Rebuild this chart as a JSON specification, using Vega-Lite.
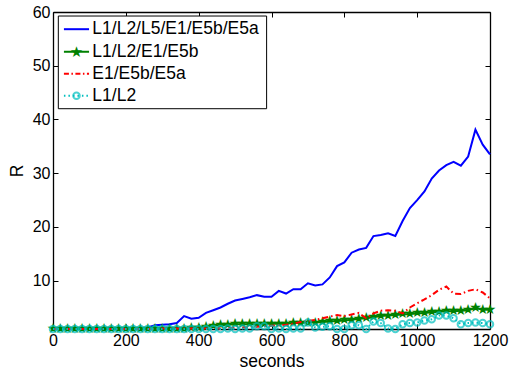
{
  "$schema": "https://vega.github.io/schema/vega-lite/v6.json",
  "width": 437,
  "height": 317,
  "autosize": {"type": "none"},
  "padding": {"left": 53, "top": 12, "right": 19, "bottom": 44},
  "config": {
    "view": {"stroke": null},
    "font": "Liberation Sans",
    "axis": {
      "domainColor": "black",
      "domainWidth": 1.3,
      "tickColor": "black",
      "tickWidth": 1,
      "tickSize": -5,
      "labelPadding": 8,
      "labelFontSize": 16,
      "labelColor": "black",
      "labelFlush": false,
      "labelOverlap": false,
      "titleFontSize": 17.5,
      "titleFontWeight": "normal",
      "titleColor": "black",
      "grid": false
    }
  },
  "data": {
    "values": [
      {"t": 0, "a": 1.0, "b": 1.0, "c": 1.0, "d": 1.0},
      {"t": 20, "a": 1.0, "b": 1.0, "c": 1.0, "d": 1.0},
      {"t": 40, "a": 1.0, "b": 1.0, "c": 1.0, "d": 1.0},
      {"t": 60, "a": 1.0, "b": 1.0, "c": 1.0, "d": 1.0},
      {"t": 80, "a": 1.0, "b": 1.0, "c": 1.0, "d": 1.0},
      {"t": 100, "a": 1.0, "b": 1.0, "c": 1.0, "d": 1.0},
      {"t": 120, "a": 1.0, "b": 1.0, "c": 1.0, "d": 1.0},
      {"t": 140, "a": 1.0, "b": 1.0, "c": 1.0, "d": 1.0},
      {"t": 160, "a": 1.0, "b": 1.0, "c": 1.0, "d": 1.0},
      {"t": 180, "a": 1.0, "b": 1.0, "c": 1.0, "d": 1.0},
      {"t": 200, "a": 1.0, "b": 1.0, "c": 1.0, "d": 1.0},
      {"t": 220, "a": 1.1, "b": 1.0, "c": 1.0, "d": 1.0},
      {"t": 240, "a": 1.1, "b": 1.0, "c": 1.0, "d": 1.0},
      {"t": 260, "a": 1.3, "b": 1.0, "c": 1.0, "d": 1.0},
      {"t": 280, "a": 1.7, "b": 1.0, "c": 1.0, "d": 1.0},
      {"t": 300, "a": 1.8, "b": 1.0, "c": 1.1, "d": 1.0},
      {"t": 320, "a": 1.9, "b": 1.0, "c": 1.1, "d": 1.0},
      {"t": 340, "a": 2.1, "b": 1.0, "c": 1.1, "d": 1.0},
      {"t": 360, "a": 3.4, "b": 1.0, "c": 1.1, "d": 1.0},
      {"t": 380, "a": 2.9, "b": 1.1, "c": 1.1, "d": 1.0},
      {"t": 400, "a": 3.1, "b": 1.2, "c": 1.1, "d": 1.0},
      {"t": 420, "a": 4.0, "b": 1.4, "c": 1.1, "d": 1.0},
      {"t": 440, "a": 4.5, "b": 1.6, "c": 1.1, "d": 1.0},
      {"t": 460, "a": 5.0, "b": 1.7, "c": 1.1, "d": 1.0},
      {"t": 480, "a": 5.7, "b": 1.8, "c": 1.2, "d": 1.1},
      {"t": 500, "a": 6.3, "b": 1.9, "c": 1.2, "d": 1.0},
      {"t": 520, "a": 6.6, "b": 1.9, "c": 1.3, "d": 1.1},
      {"t": 540, "a": 6.9, "b": 1.9, "c": 1.3, "d": 1.1},
      {"t": 560, "a": 7.3, "b": 1.9, "c": 1.4, "d": 1.5},
      {"t": 580, "a": 7.0, "b": 2.0, "c": 1.5, "d": 1.5},
      {"t": 600, "a": 7.0, "b": 2.0, "c": 1.6, "d": 1.0},
      {"t": 620, "a": 8.1, "b": 2.0, "c": 1.7, "d": 1.1},
      {"t": 640, "a": 7.6, "b": 2.0, "c": 1.8, "d": 1.0},
      {"t": 660, "a": 8.4, "b": 2.1, "c": 2.0, "d": 1.1},
      {"t": 680, "a": 8.4, "b": 2.1, "c": 2.3, "d": 1.1},
      {"t": 700, "a": 9.5, "b": 2.2, "c": 2.5, "d": 2.2},
      {"t": 720, "a": 9.1, "b": 2.2, "c": 2.7, "d": 1.3},
      {"t": 740, "a": 9.3, "b": 2.3, "c": 3.0, "d": 1.4},
      {"t": 760, "a": 10.6, "b": 2.4, "c": 3.3, "d": 1.5},
      {"t": 780, "a": 12.7, "b": 2.5, "c": 3.6, "d": 1.0},
      {"t": 800, "a": 13.4, "b": 2.6, "c": 3.4, "d": 1.0},
      {"t": 820, "a": 15.2, "b": 2.7, "c": 3.7, "d": 1.7},
      {"t": 840, "a": 15.8, "b": 2.9, "c": 4.0, "d": 1.7},
      {"t": 860, "a": 16.1, "b": 3.0, "c": 3.0, "d": 1.0},
      {"t": 880, "a": 18.3, "b": 3.2, "c": 3.9, "d": 2.4},
      {"t": 900, "a": 18.5, "b": 3.4, "c": 4.4, "d": 2.1},
      {"t": 920, "a": 18.8, "b": 3.5, "c": 4.5, "d": 1.1},
      {"t": 940, "a": 18.3, "b": 3.6, "c": 4.4, "d": 1.0},
      {"t": 960, "a": 21.1, "b": 3.7, "c": 3.9, "d": 1.9},
      {"t": 980, "a": 23.5, "b": 3.8, "c": 5.0, "d": 2.1},
      {"t": 1000, "a": 25.0, "b": 3.9, "c": 5.8, "d": 2.2},
      {"t": 1020, "a": 26.6, "b": 4.0, "c": 6.5, "d": 2.6},
      {"t": 1040, "a": 29.0, "b": 4.1, "c": 7.3, "d": 2.8},
      {"t": 1060, "a": 30.5, "b": 4.2, "c": 8.3, "d": 3.5},
      {"t": 1080, "a": 31.5, "b": 4.3, "c": 8.9, "d": 3.5},
      {"t": 1100, "a": 32.1, "b": 4.3, "c": 7.6, "d": 3.0},
      {"t": 1120, "a": 31.4, "b": 4.4, "c": 7.5, "d": 1.9},
      {"t": 1140, "a": 33.1, "b": 4.5, "c": 8.1, "d": 2.1},
      {"t": 1160, "a": 38.1, "b": 4.9, "c": 8.4, "d": 2.2},
      {"t": 1180, "a": 35.3, "b": 4.6, "c": 7.8, "d": 2.1},
      {"t": 1200, "a": 33.5, "b": 4.6, "c": 6.7, "d": 1.9}
    ]
  },
  "layer": [
    {
      "layer": [
        {
          "mark": {"type": "line", "strokeWidth": 2, "color": "#0000FF", "clip": false},
          "encoding": {
            "x": {"field": "t", "type": "quantitative", "scale": {"domain": [0, 1200], "nice": false, "zero": false}, "axis": {"orient": "bottom", "title": "seconds", "values": [0, 200, 400, 600, 800, 1000, 1200], "format": "d", "titlePadding": 4}},
            "y": {"field": "a", "type": "quantitative", "scale": {"domain": [1, 60], "nice": false, "zero": false}, "axis": {"orient": "left", "title": "R", "values": [10, 20, 30, 40, 50, 60], "titlePadding": 6}}
          }
        },
        {
          "mark": {"type": "line", "strokeWidth": 2, "color": "#008000", "clip": false},
          "encoding": {
            "x": {"field": "t", "type": "quantitative"},
            "y": {"field": "b", "type": "quantitative"}
          }
        },
        {
          "mark": {"type": "text", "text": "★", "font": "DejaVu Sans", "fontSize": 14, "align": "center", "baseline": "middle", "color": "#008000", "clip": false},
          "encoding": {
            "x": {"field": "t", "type": "quantitative"},
            "y": {"field": "b", "type": "quantitative"}
          }
        },
        {
          "mark": {"type": "line", "strokeWidth": 2, "color": "#FF0000", "strokeDash": [6, 3, 1.5, 3], "clip": false},
          "encoding": {
            "x": {"field": "t", "type": "quantitative"},
            "y": {"field": "c", "type": "quantitative"}
          }
        },
        {
          "mark": {"type": "line", "strokeWidth": 2, "color": "#00BFBF", "strokeDash": [1.5, 3], "clip": false},
          "encoding": {
            "x": {"field": "t", "type": "quantitative"},
            "y": {"field": "d", "type": "quantitative"}
          }
        },
        {
          "mark": {"type": "point", "filled": false, "size": 42, "color": "#00BFBF", "strokeWidth": 2},
          "encoding": {
            "x": {"field": "t", "type": "quantitative"},
            "y": {"field": "d", "type": "quantitative"}
          }
        },
        {
          "data": {"values": [{"legend": "box"}]},
          "layer": [
            {
              "mark": {"type": "rect", "fill": "white", "stroke": "black", "strokeWidth": 1},
              "encoding": {
                "x": {"datum": 14.6, "type": "quantitative"},
                "x2": {"datum": 586.6},
                "y": {"datum": 59.25, "type": "quantitative"},
                "y2": {"datum": 42.0}
              }
            },
            {
              "mark": {"type": "rule", "stroke": "#0000FF", "strokeWidth": 2},
              "encoding": {
                "x": {"datum": 30, "type": "quantitative"},
                "x2": {"datum": 99},
                "y": {"datum": 56.8, "type": "quantitative"}
              }
            },
            {
              "mark": {"type": "rule", "stroke": "#008000", "strokeWidth": 2},
              "encoding": {
                "x": {"datum": 30, "type": "quantitative"},
                "x2": {"datum": 99},
                "y": {"datum": 52.6, "type": "quantitative"}
              }
            },
            {
              "mark": {"type": "text", "text": "★", "font": "DejaVu Sans", "fontSize": 15, "align": "center", "baseline": "middle", "color": "#008000"},
              "encoding": {
                "x": {"datum": 64.5, "type": "quantitative"},
                "y": {"datum": 52.6, "type": "quantitative"}
              }
            },
            {
              "mark": {"type": "rule", "stroke": "#FF0000", "strokeWidth": 2, "strokeDash": [5, 2.5, 1.5, 2.5]},
              "encoding": {
                "x": {"datum": 30, "type": "quantitative"},
                "x2": {"datum": 99},
                "y": {"datum": 48.5, "type": "quantitative"}
              }
            },
            {
              "mark": {"type": "rule", "stroke": "#00BFBF", "strokeWidth": 2, "strokeDash": [1.5, 3]},
              "encoding": {
                "x": {"datum": 30, "type": "quantitative"},
                "x2": {"datum": 99},
                "y": {"datum": 44.4, "type": "quantitative"}
              }
            },
            {
              "mark": {"type": "point", "filled": false, "size": 42, "color": "#00BFBF", "strokeWidth": 2},
              "encoding": {
                "x": {"datum": 64.5, "type": "quantitative"},
                "y": {"datum": 44.4, "type": "quantitative"}
              }
            },
            {
              "mark": {"type": "text", "text": "L1/L2/L5/E1/E5b/E5a", "fontSize": 17.5, "align": "left", "baseline": "middle", "color": "black"},
              "encoding": {
                "x": {"datum": 108, "type": "quantitative"},
                "y": {"datum": 56.8, "type": "quantitative"}
              }
            },
            {
              "mark": {"type": "text", "text": "L1/L2/E1/E5b", "fontSize": 17.5, "align": "left", "baseline": "middle", "color": "black"},
              "encoding": {
                "x": {"datum": 108, "type": "quantitative"},
                "y": {"datum": 52.6, "type": "quantitative"}
              }
            },
            {
              "mark": {"type": "text", "text": "E1/E5b/E5a", "fontSize": 17.5, "align": "left", "baseline": "middle", "color": "black"},
              "encoding": {
                "x": {"datum": 108, "type": "quantitative"},
                "y": {"datum": 48.5, "type": "quantitative"}
              }
            },
            {
              "mark": {"type": "text", "text": "L1/L2", "fontSize": 17.5, "align": "left", "baseline": "middle", "color": "black"},
              "encoding": {
                "x": {"datum": 108, "type": "quantitative"},
                "y": {"datum": 44.4, "type": "quantitative"}
              }
            }
          ]
        }
      ]
    },
    {
      "mark": {"type": "line", "opacity": 0},
      "encoding": {
        "x": {"field": "t", "type": "quantitative", "axis": {"orient": "top", "labels": false, "title": null, "values": [0, 200, 400, 600, 800, 1000, 1200]}},
        "y": {"field": "a", "type": "quantitative", "axis": {"orient": "right", "labels": false, "title": null, "values": [10, 20, 30, 40, 50, 60]}}
      }
    }
  ],
  "resolve": {"axis": {"x": "independent", "y": "independent"}}
}
